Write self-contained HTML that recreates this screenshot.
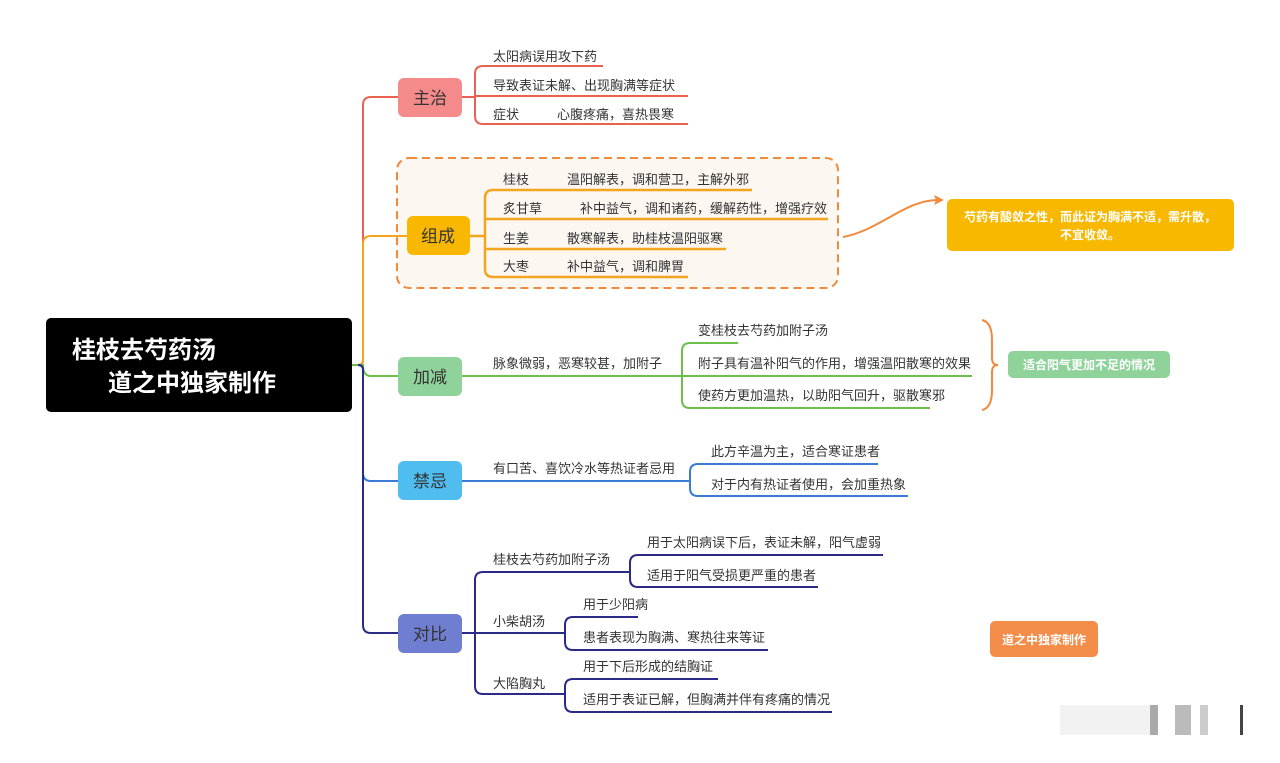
<!DOCTYPE html>
<html><head><meta charset="utf-8"><style>
html,body{margin:0;padding:0;background:#fff;}
svg text{font-family:"Liberation Sans","Noto Sans CJK SC",sans-serif;}
</style></head><body>
<svg width="1280" height="758" xmlns="http://www.w3.org/2000/svg">
<rect width="1280" height="758" fill="#fff"/>
<!-- dashed group -->
<rect x="397" y="158" width="441" height="130" rx="12" fill="#fdf7f1" stroke="#f08a3c" stroke-width="2" stroke-dasharray="8,5"/>
<!-- trunk -->
<g fill="none" stroke-width="2">
<path d="M352 365 H358 Q363 365 363 360 V105 Q363 97 371 97 H398" stroke="#e8634f"/>
<path d="M358 365 Q363 365 363 360 V244 Q363 236 371 236 H407" stroke="#f3a51e"/>
<path d="M352 365 H363 Q363 376 371 376 H398" stroke="#6cbf4a"/>
<path d="M358 365 Q363 365 363 370 V473 Q363 481 371 481 H398" stroke="#3a7bd5"/>
<path d="M358 365 Q363 365 363 370 V625 Q363 633 371 633 H398" stroke="#2b2a86"/>
<!-- 主治 -->
<g stroke="#e8634f">
<path d="M462 97 H475"/>
<path d="M603 66 H483 Q475 66 475 74 V116 Q475 124 483 124 H688"/>
<path d="M475 96 H688"/>
</g>
<!-- 组成 -->
<g stroke="#f3a51e" stroke-width="2.5">
<path d="M470 236 H485"/>
<path d="M752 190 H493 Q485 190 485 198 V269 Q485 277 493 277 H688"/>
<path d="M485 219 H828"/>
<path d="M485 249 H726"/>
</g>
<!-- 加减 -->
<g stroke="#6cbf4a">
<path d="M462 376 H972"/>
<path d="M738 343 H690 Q682 343 682 351 V400 Q682 408 690 408 H930"/>
</g>
<!-- 禁忌 -->
<g stroke="#3a7bd5">
<path d="M462 481 H690"/>
<path d="M878 464 H698 Q690 464 690 472 V488 Q690 496 698 496 H908"/>
</g>
<!-- 对比 -->
<g stroke="#2b2a86">
<path d="M462 633 H565"/>
<path d="M630 572 H483 Q475 572 475 580 V686 Q475 694 483 694 H565"/>
<path d="M883 555 H638 Q630 555 630 563 V579 Q630 587 638 587 H818"/>
<path d="M638 617 H573 Q565 617 565 625 V642 Q565 650 573 650 H768"/>
<path d="M718 679 H573 Q565 679 565 687 V704 Q565 712 573 712 H832"/>
</g>
<!-- arrow -->
<path d="M843 237 C880 230 905 200 938 200" stroke="#f08a3c"/>
<!-- brace -->
<path d="M982 320 Q992 322 992 340 V358 Q992 365 998 365 Q992 365 992 372 V390 Q992 408 982 410" stroke="#f08a3c"/>
</g>
<path d="M944 200 L934 195 L936 200 L934 205 Z" fill="#f08a3c"/>
<!-- root -->
<rect x="46" y="318" width="306" height="94" rx="5" fill="#000"/>
<text x="72" y="358" fill="#fff" font-size="24" font-weight="bold">桂枝去芍药汤</text>
<text x="108" y="391" fill="#fff" font-size="24" font-weight="bold">道之中独家制作</text>
<!-- branch boxes -->
<rect x="398" y="78" width="64" height="39" rx="6" fill="#f58a8a"/>
<text x="430" y="104" font-size="17" fill="#333" text-anchor="middle">主治</text>
<rect x="407" y="216" width="63" height="39" rx="6" fill="#f9b700"/>
<text x="438" y="242" font-size="17" fill="#333" text-anchor="middle">组成</text>
<rect x="398" y="357" width="64" height="39" rx="6" fill="#8fd39a"/>
<text x="430" y="383" font-size="17" fill="#333" text-anchor="middle">加减</text>
<rect x="398" y="461" width="64" height="39" rx="6" fill="#4fbdf0"/>
<text x="430" y="487" font-size="17" fill="#333" text-anchor="middle">禁忌</text>
<rect x="398" y="614" width="64" height="39" rx="6" fill="#6f7ed0"/>
<text x="430" y="640" font-size="17" fill="#333" text-anchor="middle">对比</text>
<!-- leaves -->
<g font-size="13" fill="#333">
<text x="493" y="61">太阳病误用攻下药</text>
<text x="493" y="90">导致表证未解、出现胸满等症状</text>
<text x="493" y="119">症状</text><text x="557" y="119">心腹疼痛，喜热畏寒</text>
<text x="503" y="184">桂枝</text><text x="567" y="184">温阳解表，调和营卫，主解外邪</text>
<text x="503" y="213">炙甘草</text><text x="580" y="213">补中益气，调和诸药，缓解药性，增强疗效</text>
<text x="503" y="243">生姜</text><text x="567" y="243">散寒解表，助桂枝温阳驱寒</text>
<text x="503" y="271">大枣</text><text x="567" y="271">补中益气，调和脾胃</text>
<text x="493" y="368">脉象微弱，恶寒较甚，加附子</text>
<text x="698" y="335">变桂枝去芍药加附子汤</text>
<text x="698" y="368">附子具有温补阳气的作用，增强温阳散寒的效果</text>
<text x="698" y="400">使药方更加温热，以助阳气回升，驱散寒邪</text>
<text x="493" y="473">有口苦、喜饮冷水等热证者忌用</text>
<text x="711" y="456">此方辛温为主，适合寒证患者</text>
<text x="711" y="489">对于内有热证者使用，会加重热象</text>
<text x="493" y="564">桂枝去芍药加附子汤</text>
<text x="647" y="547">用于太阳病误下后，表证未解，阳气虚弱</text>
<text x="647" y="580">适用于阳气受损更严重的患者</text>
<text x="493" y="626">小柴胡汤</text>
<text x="583" y="609">用于少阳病</text>
<text x="583" y="642">患者表现为胸满、寒热往来等证</text>
<text x="493" y="688">大陷胸丸</text>
<text x="583" y="671">用于下后形成的结胸证</text>
<text x="583" y="704">适用于表证已解，但胸满并伴有疼痛的情况</text>
</g>
<!-- callouts -->
<rect x="947" y="199" width="287" height="52" rx="5" fill="#f9b800"/>
<text x="1090" y="221" font-size="12" font-weight="bold" fill="#fff" text-anchor="middle">芍药有酸敛之性，而此证为胸满不适，需升散，</text>
<text x="1090" y="239" font-size="12" font-weight="bold" fill="#fff" text-anchor="middle">不宜收敛。</text>
<rect x="1008" y="351" width="162" height="27" rx="5" fill="#8fd39a"/>
<text x="1089" y="369" font-size="12" font-weight="bold" fill="#fff" text-anchor="middle">适合阳气更加不足的情况</text>
<rect x="990" y="621" width="108" height="36" rx="5" fill="#f48c4a"/>
<text x="1044" y="644" font-size="12" font-weight="bold" fill="#fff" text-anchor="middle">道之中独家制作</text>
<!-- watermark -->
<g fill="#ddd">
<rect x="1060" y="705" width="90" height="30" fill="#f2f2f2"/>
<rect x="1150" y="705" width="8" height="30" fill="#aaa"/>
<rect x="1175" y="705" width="16" height="30" fill="#bbb"/>
<rect x="1200" y="705" width="8" height="30" fill="#ccc"/>
<rect x="1240" y="705" width="3" height="30" fill="#444"/>
</g>
</svg>
</body></html>
